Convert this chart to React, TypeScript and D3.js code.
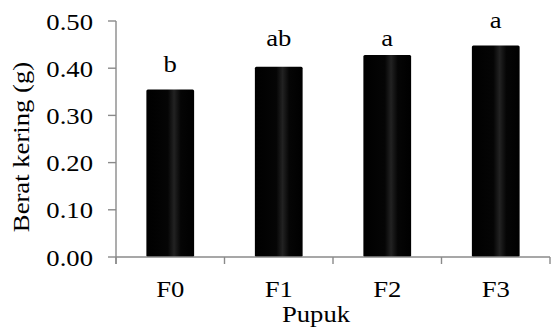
import React, { useEffect, useRef } from 'react';
import * as d3 from 'd3';

const categories = ['F0', 'F1', 'F2', 'F3'];
const values = [0.355, 0.403, 0.428, 0.448];
const letters = ['b', 'ab', 'a', 'a'];
// height (in data units) where each significance letter sits
const letterLevel = [0.391, 0.447, 0.446, 0.486];
const yTicks = [0, 0.1, 0.2, 0.3, 0.4, 0.5];

export default function App() {
  const ref = useRef<SVGSVGElement | null>(null);

  useEffect(() => {
    if (!ref.current) return;
    const svg = d3.select(ref.current);
    svg.selectAll('*').remove();

    const font = '"Liberation Serif", "Times New Roman", serif';
    const fs = 23;
    const sx = 1.16; // glyphs in the picture are a bit wider than Times
    const axisColor = '#8a8a8a';

    const x = d3.scaleBand<string>()
      .domain(categories)
      .range([116, 550])
      .paddingInner(0.56)
      .paddingOuter(0.28);

    const y = d3.scaleLinear().domain([0, 0.5]).range([257, 21]);

    const defs = svg.append('defs');
    const grad = defs.append('linearGradient').attr('id', 'barGrad')
      .attr('x1', '0%').attr('x2', '100%').attr('y1', '0%').attr('y2', '0%');
    grad.append('stop').attr('offset', '0%').attr('stop-color', '#000');
    grad.append('stop').attr('offset', '45%').attr('stop-color', '#050505');
    grad.append('stop').attr('offset', '58%').attr('stop-color', '#222');
    grad.append('stop').attr('offset', '72%').attr('stop-color', '#050505');
    grad.append('stop').attr('offset', '100%').attr('stop-color', '#000');

    // bars
    svg.selectAll('rect.bar')
      .data(values)
      .enter()
      .append('rect')
      .attr('class', 'bar')
      .attr('x', (d, i) => x(categories[i])!)
      .attr('y', d => y(d))
      .attr('width', x.bandwidth())
      .attr('height', d => y(0) - y(d))
      .attr('rx', 1.5)
      .attr('fill', 'url(#barGrad)');

    // y axis line + ticks
    svg.append('line')
      .attr('x1', 116).attr('x2', 116)
      .attr('y1', y(0.5)).attr('y2', y(0) + 7)
      .attr('stroke', axisColor).attr('stroke-width', 1.4);

    svg.selectAll('line.ytick')
      .data(yTicks)
      .enter()
      .append('line')
      .attr('x1', 108).attr('x2', 116)
      .attr('y1', d => y(d)).attr('y2', d => y(d))
      .attr('stroke', axisColor).attr('stroke-width', 1.4);

    svg.selectAll('text.ylab')
      .data(yTicks)
      .enter()
      .append('text')
      .attr('transform', d => `translate(93,${y(d) + 8.5}) scale(${sx},1)`)
      .attr('text-anchor', 'end')
      .attr('font-family', font)
      .attr('font-size', fs)
      .attr('fill', '#000')
      .text(d => d.toFixed(2));

    // x axis line + boundary ticks
    svg.append('line')
      .attr('x1', 116).attr('x2', 550)
      .attr('y1', y(0)).attr('y2', y(0))
      .attr('stroke', axisColor).attr('stroke-width', 1.4);

    const bounds = categories.map(c => x(c)! - x.step() * x.paddingInner() / 2);
    bounds.push(550);
    svg.selectAll('line.xtick')
      .data(bounds)
      .enter()
      .append('line')
      .attr('x1', d => d).attr('x2', d => d)
      .attr('y1', y(0)).attr('y2', y(0) + 7)
      .attr('stroke', axisColor).attr('stroke-width', 1.4);

    svg.selectAll('text.xlab')
      .data(categories)
      .enter()
      .append('text')
      .attr('transform', d => `translate(${x(d)! + x.bandwidth() / 2},297) scale(${sx},1)`)
      .attr('text-anchor', 'middle')
      .attr('font-family', font)
      .attr('font-size', fs)
      .attr('fill', '#000')
      .text(d => d);

    // significance letters
    svg.selectAll('text.sig')
      .data(letters)
      .enter()
      .append('text')
      .attr('transform', (d, i) => `translate(${x(categories[i])! + x.bandwidth() / 2},${y(letterLevel[i])}) scale(${sx},1)`)
      .attr('text-anchor', 'middle')
      .attr('font-family', font)
      .attr('font-size', fs)
      .attr('fill', '#000')
      .text(d => d);

    // axis titles
    svg.append('text')
      .attr('transform', `translate(316,322) scale(${sx},1)`)
      .attr('text-anchor', 'middle')
      .attr('font-family', font)
      .attr('font-size', fs)
      .attr('fill', '#000')
      .text('Pupuk');

    svg.append('text')
      .attr('transform', `translate(29,147) rotate(-90) scale(${sx},1)`)
      .attr('text-anchor', 'middle')
      .attr('font-family', font)
      .attr('font-size', fs)
      .attr('fill', '#000')
      .text('Berat kering (g)');
  }, []);

  return (
    <svg
      ref={ref}
      width={552}
      height={327}
      style={{ position: 'absolute', left: 0, top: 0, background: '#fff' }}
    />
  );
}
